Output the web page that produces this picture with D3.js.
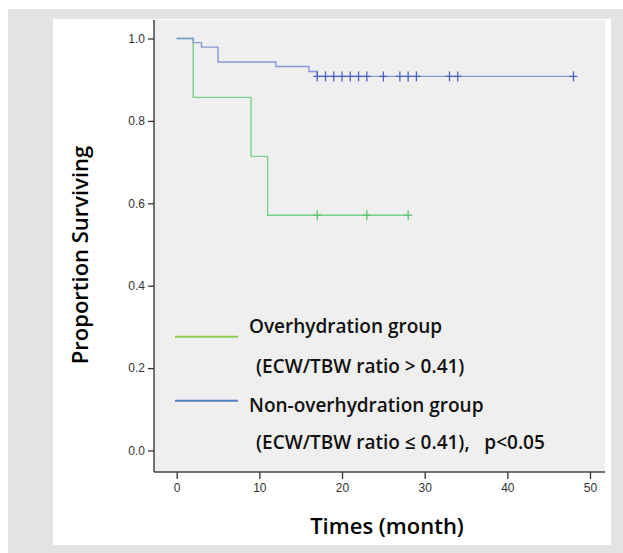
<!DOCTYPE html>
<html>
<head>
<meta charset="utf-8">
<title>Kaplan-Meier</title>
<style>
body { margin: 0; background: #fff; }
</style>
</head>
<body>
<script src="https://d3js.org/d3.v7.min.js"></script>
<script>
// step values (time in months, proportion surviving)
var overTimes = [0, 2, 9, 11, 28];
var overSurv = [1.0, 0.857, 0.714, 0.571, 0.571];
var overCensor = [17, 23, 28];

var nonTimes = [0, 2, 3, 5, 12, 16, 17, 48];
var nonSurv = [1.0, 0.990, 0.979, 0.943, 0.932, 0.920, 0.908, 0.908];
var nonCensor = [17, 18, 19, 20, 21, 22, 23, 25, 27, 28, 29, 33, 34, 48];

var xTicks = [0, 10, 20, 30, 40, 50];
var yTicks = [0.0, 0.2, 0.4, 0.6, 0.8, 1.0];

var svg = d3.select('body').append('svg')
	.attr('width', 623)
	.attr('height', 553);

// frame
svg.append('rect').attr('x', 8).attr('y', 9).attr('width', 615).attr('height', 544).attr('fill', '#e3e3e3');
svg.append('rect').attr('x', 53).attr('y', 19).attr('width', 558).attr('height', 526).attr('fill', '#ffffff');
svg.append('rect').attr('x', 154).attr('y', 20).attr('width', 451).attr('height', 452).attr('fill', '#efefef');

var x = d3.scaleLinear().domain([0, 50]).range([176.7, 590]);
var y = d3.scaleLinear().domain([0, 1]).range([450.5, 38.5]);

// axes
var xAxis = svg.append('g')
	.attr('transform', 'translate(0,472)')
	.call(d3.axisBottom(x).tickValues(xTicks).tickFormat(d3.format('d')).tickSize(7).tickPadding(4));
xAxis.select('.domain').attr('d', 'M154,0H605').attr('stroke', '#444').attr('stroke-width', 1.5);

var yAxis = svg.append('g')
	.attr('transform', 'translate(154,0)')
	.call(d3.axisLeft(y).tickValues(yTicks).tickFormat(d3.format('.1f')).tickSize(6).tickPadding(3));
yAxis.select('.domain').attr('d', 'M0,20V472').attr('stroke', '#444').attr('stroke-width', 1.5);

svg.selectAll('.tick line').attr('stroke', '#333').attr('stroke-width', 1.3);
svg.selectAll('.tick text')
	.attr('fill', '#333')
	.style('font-family', 'Liberation Sans, Arial, sans-serif')
	.style('font-size', '12px');

// survival curves
function stepLine(times, surv) {
	return d3.line()
		.x(function(d, i) { return x(times[i]); })
		.y(function(d) { return y(d); })
		.curve(d3.curveStepAfter)(surv);
}

svg.append('path')
	.attr('d', stepLine(overTimes, overSurv))
	.attr('fill', 'none')
	.attr('stroke', '#79d28a')
	.attr('stroke-width', 1.4);

svg.append('path')
	.attr('d', stepLine(nonTimes, nonSurv))
	.attr('fill', 'none')
	.attr('stroke', '#8697d4')
	.attr('stroke-width', 1.4);

function survAt(times, surv, t) {
	var v = surv[0];
	for (var i = 0; i < times.length; i++) { if (times[i] <= t) v = surv[i]; }
	return v;
}

function censorMarks(list, times, surv, color) {
	var g = svg.append('g').attr('stroke', color).attr('stroke-width', 1.3);
	g.selectAll('line.v').data(list).enter().append('line')
		.attr('x1', function(d) { return x(d); })
		.attr('x2', function(d) { return x(d); })
		.attr('y1', function(d) { return y(survAt(times, surv, d)) - 5; })
		.attr('y2', function(d) { return y(survAt(times, surv, d)) + 5; });
	g.selectAll('line.h').data(list).enter().append('line')
		.attr('x1', function(d) { return x(d) - 4; })
		.attr('x2', function(d) { return x(d) + 4; })
		.attr('y1', function(d) { return y(survAt(times, surv, d)); })
		.attr('y2', function(d) { return y(survAt(times, surv, d)); });
}
censorMarks(overCensor, overTimes, overSurv, '#5cc46e');
censorMarks(nonCensor, nonTimes, nonSurv, '#4e63bd');

// legend
var legendFont = 'Open Sans, Noto Sans, sans-serif';
svg.append('line').attr('x1', 175).attr('x2', 238).attr('y1', 336.7).attr('y2', 336.7)
	.attr('stroke', '#8ccf52').attr('stroke-width', 2);
svg.append('line').attr('x1', 175).attr('x2', 238).attr('y1', 400.7).attr('y2', 400.7)
	.attr('stroke', '#4f80c2').attr('stroke-width', 2);

var legendText = [
	{ t: 'Overhydration group', x: 249, y: 333 },
	{ t: '(ECW/TBW ratio > 0.41)', x: 256, y: 373 },
	{ t: 'Non-overhydration group', x: 249, y: 412 },
	{ t: '(ECW/TBW ratio \u2264 0.41),\u00a0\u00a0 p<0.05', x: 256, y: 449 }
];
svg.selectAll('text.leg').data(legendText).enter().append('text')
	.attr('class', 'leg')
	.attr('x', function(d) { return d.x; })
	.attr('y', function(d) { return d.y; })
	.style('font-family', legendFont)
	.style('font-size', '19px')
	.style('font-weight', '600')
	.attr('fill', '#111')
	.text(function(d) { return d.t; });

// axis titles
svg.append('text')
	.attr('transform', 'translate(88,255) rotate(-90)')
	.attr('text-anchor', 'middle')
	.style('font-family', legendFont)
	.style('font-size', '22px')
	.style('font-weight', '600')
	.text('Proportion Surviving');

svg.append('text')
	.attr('x', 387)
	.attr('y', 534)
	.attr('text-anchor', 'middle')
	.style('font-family', legendFont)
	.style('font-size', '22px')
	.style('font-weight', '600')
	.text('Times (month)');
</script>
</body>
</html>
